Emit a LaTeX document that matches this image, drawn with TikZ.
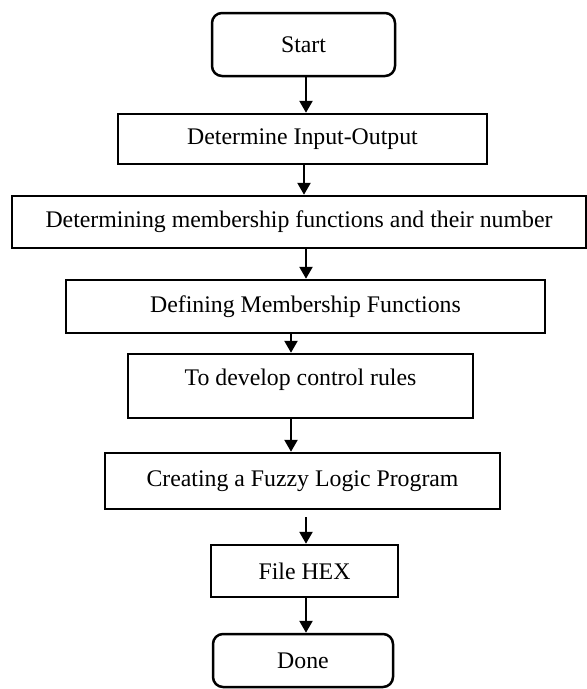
\documentclass[tikz,border=0pt]{standalone}
\usepackage{fontspec}
\setmainfont{Liberation Serif}
\usetikzlibrary{arrows.meta}
\tikzset{
  stepbox/.style={draw, line width=2.5pt, rectangle, inner sep=0pt,
    font=\fontsize{23.8}{28}\selectfont},
  termbox/.style={stepbox, rounded corners=10pt},
  flow/.style={line width=2.5pt, -{Triangle[length=12pt,width=13pt]}}
}
\begin{document}
\begin{tikzpicture}[x=1pt,y=-1pt]
\useasboundingbox (0,0) rectangle (587,689);

% process boxes, top to bottom
\node[termbox, minimum width=183pt, minimum height=63pt] (start) at (303.5,44.5) {Start};
\node[stepbox, minimum width=369pt, minimum height=50pt] (io) at (302.5,139) {Determine Input-Output};
\node[stepbox, minimum width=574pt, minimum height=52pt] (mfnum) at (299,222) {Determining membership functions and their number};
\node[stepbox, minimum width=479pt, minimum height=53pt] (mfdef) at (305.5,306.5) {Defining Membership Functions};
\node[stepbox, minimum width=345pt, minimum height=64pt,
  label={[font=\fontsize{23.8}{28}\selectfont, yshift=6pt]center:To develop control rules}] (rules) at (300.5,386) {};
\node[stepbox, minimum width=395pt, minimum height=56pt] (prog) at (302.5,481) {Creating a Fuzzy Logic Program};
\node[stepbox, minimum width=187pt, minimum height=52pt] (hex) at (304.5,571) {File HEX};
\node[termbox, minimum width=180pt, minimum height=53pt] (done) at (303,660.5) {Done};

% connectors
\draw[flow] ([xshift=2.5pt]start.south) -- ([xshift=3.5pt]io.north);
\draw[flow] ([xshift=1.5pt]io.south) -- ([xshift=5pt]mfnum.north);
\draw[flow] ([xshift=7pt]mfnum.south) -- ([xshift=0.5pt]mfdef.north);
\draw[flow] ([xshift=-14.5pt]mfdef.south) -- ([xshift=-9.5pt]rules.north);
\draw[flow] ([xshift=-9.5pt]rules.south) -- ([xshift=-11.5pt]prog.north);
\draw[flow] ([xshift=3.5pt,yshift=-7pt]prog.south) -- ([xshift=1.5pt]hex.north);
\draw[flow] ([xshift=1.5pt]hex.south) -- ([xshift=3pt]done.north);
\end{tikzpicture}
\end{document}
